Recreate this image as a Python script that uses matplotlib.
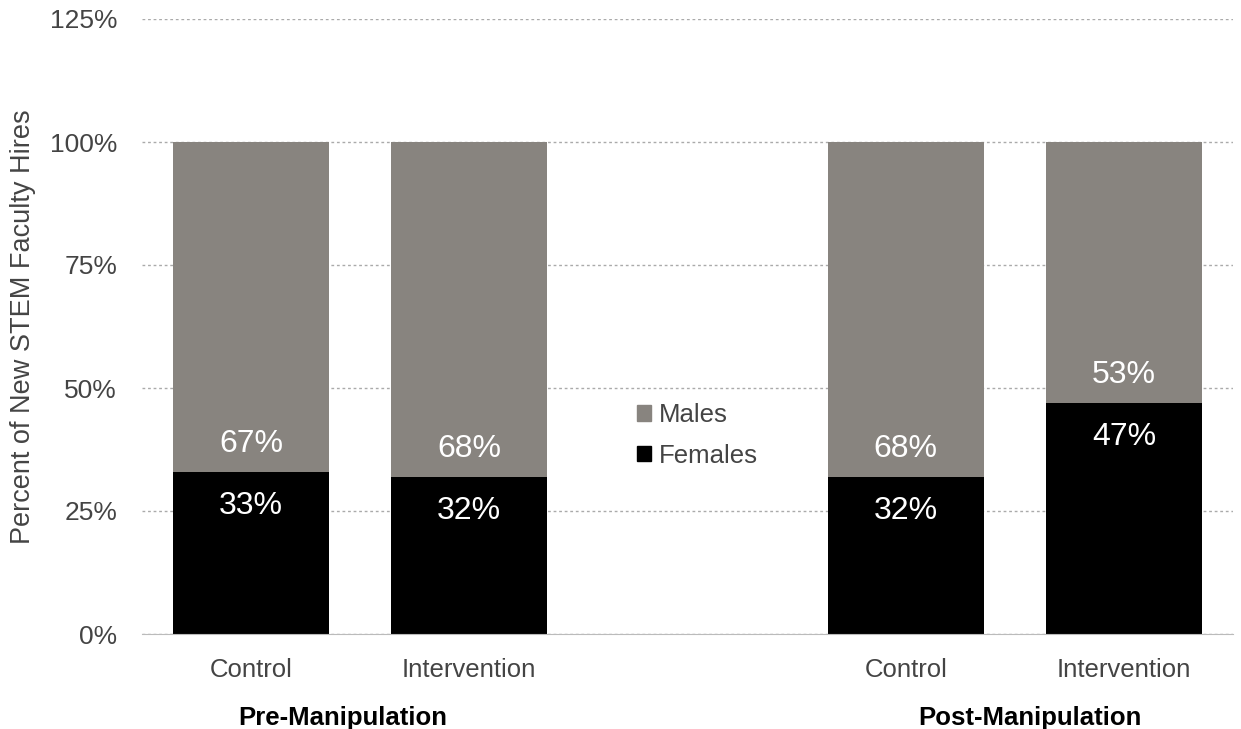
import numpy as np
import matplotlib.pyplot as plt
from matplotlib.patches import Patch

plt.rcParams['font.family'] = ['Liberation Sans', 'DejaVu Sans']

# Data
categories = ['Control', 'Intervention', 'Control', 'Intervention']
groups = ['Pre-Manipulation', 'Post-Manipulation']
females = np.array([33, 32, 32, 47])
males = np.array([67, 68, 68, 53])
yticks = [0, 25, 50, 75, 100, 125]

x = np.array([0, 1, 3, 4])
gray = '#88847f'
text_col = '#444444'

fig = plt.figure(figsize=(12.41, 7.29), dpi=100)
ax = fig.add_axes([142/1241, 95/729, (1233-142)/1241, (634-19)/729])

ax.bar(x, females, width=0.716, color='black', zorder=3)
ax.bar(x, males, width=0.716, bottom=females, color=gray, zorder=3)

for xi, f, m in zip(x, females, males):
    ax.text(xi, f - 6.9, f'{f}%', ha='center', va='center', color='white', fontsize=23, zorder=4)
    ax.text(xi, f + 5.7, f'{m}%', ha='center', va='center', color='white', fontsize=23, zorder=4)

ax.set_xlim(-0.5, 4.5)
ax.set_ylim(0, 125)
ax.set_yticks(yticks)
ax.set_yticklabels([f'{t}%' for t in yticks], color=text_col, fontsize=19)
ax.set_xticks(x)
ax.set_xticklabels(categories, color=text_col, fontsize=18.5)
ax.tick_params(axis='both', length=0)
ax.tick_params(axis='x', pad=17)
ax.tick_params(axis='y', pad=18)

ax.yaxis.grid(True, linestyle=(0, (2, 2)), color='#aaaaaa', linewidth=1, zorder=0)
for s in ['top', 'right', 'left']:
    ax.spines[s].set_visible(False)
ax.spines['bottom'].set_color('#bbbbbb')
ax.spines['bottom'].set_zorder(5)

ax.set_ylabel('Percent of New STEM Faculty Hires', color=text_col, fontsize=19.5, labelpad=10)

ax.text(0.42, -17, groups[0], ha='center', va='center', fontsize=18.5, fontweight='bold', color='black')
ax.text(3.57, -17, groups[1], ha='center', va='center', fontsize=18.5, fontweight='bold', color='black')

handles = [Patch(color=gray, label='Males'), Patch(color='black', label='Females')]
ax.legend(handles=handles, loc='center', bbox_to_anchor=(0.509, 0.323), frameon=False,
          fontsize=18.5, handlelength=0.55, handleheight=0.55, handletextpad=0.3,
          labelspacing=0.65, labelcolor=text_col)

fig.savefig('out.png', dpi=100)
